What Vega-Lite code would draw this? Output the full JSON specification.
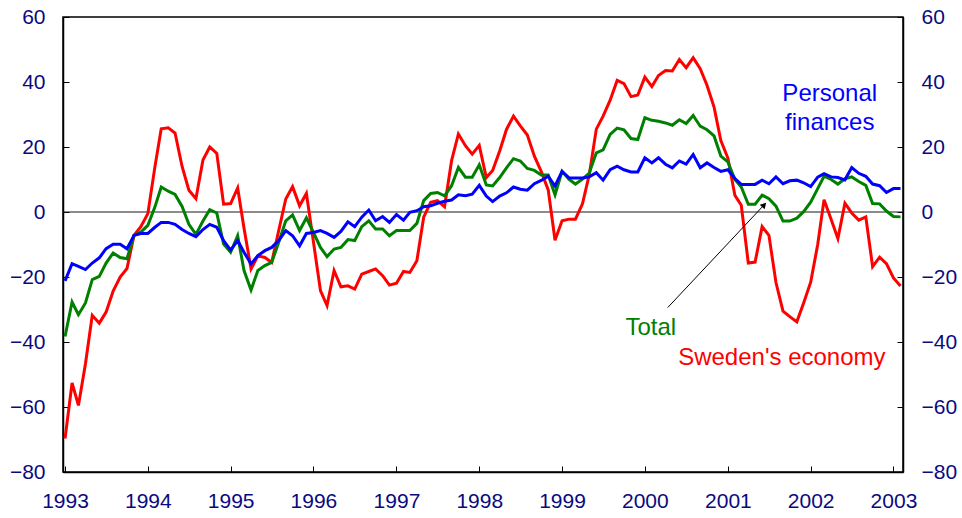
{
  "$schema": "https://vega.github.io/schema/vega-lite/v6.json",
  "width": 840,
  "height": 455,
  "autosize": {"type": "none"},
  "padding": {"left": 63, "top": 17, "right": 59, "bottom": 46},
  "background": "white",
  "config": {
    "font": "Liberation Sans",
    "view": {"stroke": "black", "strokeWidth": 1.5},
    "axis": {
      "grid": false,
      "domainColor": "black",
      "domainWidth": 1.5,
      "tickColor": "black",
      "tickWidth": 1,
      "tickSize": -6,
      "labelFont": "Liberation Sans",
      "labelFontSize": 21,
      "labelColor": "#0a0a80",
      "title": null
    }
  },
  "datasets": {
    "sweden": [
      {"d":"1993-01-01","v":-69.7},{"d":"1993-02-01","v":-52.6},{"d":"1993-03-01","v":-59.5},{"d":"1993-04-01","v":-46.7},{"d":"1993-05-01","v":-31.8},{"d":"1993-06-01","v":-34.2},{"d":"1993-07-01","v":-30.8},{"d":"1993-08-01","v":-24.3},{"d":"1993-09-01","v":-20},{"d":"1993-10-01","v":-17.4},{"d":"1993-11-01","v":-7.2},{"d":"1993-12-01","v":-4.5},
      {"d":"1994-01-01","v":-0.5},{"d":"1994-02-01","v":13.8},{"d":"1994-03-01","v":25.6},{"d":"1994-04-01","v":25.9},{"d":"1994-05-01","v":24.3},{"d":"1994-06-01","v":14},{"d":"1994-07-01","v":6.7},{"d":"1994-08-01","v":4.1},{"d":"1994-09-01","v":16},{"d":"1994-10-01","v":20},{"d":"1994-11-01","v":18},{"d":"1994-12-01","v":2.4},
      {"d":"1995-01-01","v":2.6},{"d":"1995-02-01","v":7.4},{"d":"1995-03-01","v":-5},{"d":"1995-04-01","v":-17.5},{"d":"1995-05-01","v":-13.5},{"d":"1995-06-01","v":-14},{"d":"1995-07-01","v":-15.5},{"d":"1995-08-01","v":-5.7},{"d":"1995-09-01","v":4},{"d":"1995-10-01","v":7.8},{"d":"1995-11-01","v":1.9},{"d":"1995-12-01","v":5.7},
      {"d":"1996-01-01","v":-9.2},{"d":"1996-02-01","v":-24.2},{"d":"1996-03-01","v":-28.8},{"d":"1996-04-01","v":-18},{"d":"1996-05-01","v":-23},{"d":"1996-06-01","v":-22.7},{"d":"1996-07-01","v":-23.7},{"d":"1996-08-01","v":-19.1},{"d":"1996-09-01","v":-18.3},{"d":"1996-10-01","v":-17.5},{"d":"1996-11-01","v":-19.6},{"d":"1996-12-01","v":-22.5},
      {"d":"1997-01-01","v":-21.9},{"d":"1997-02-01","v":-18.3},{"d":"1997-03-01","v":-18.6},{"d":"1997-04-01","v":-15},{"d":"1997-05-01","v":-1.6},{"d":"1997-06-01","v":3},{"d":"1997-07-01","v":3.5},{"d":"1997-08-01","v":1.6},{"d":"1997-09-01","v":15.8},{"d":"1997-10-01","v":24},{"d":"1997-11-01","v":20.4},{"d":"1997-12-01","v":17.8},
      {"d":"1998-01-01","v":20.5},{"d":"1998-02-01","v":10.6},{"d":"1998-03-01","v":12.8},{"d":"1998-04-01","v":18.8},{"d":"1998-05-01","v":25.4},{"d":"1998-06-01","v":29.5},{"d":"1998-07-01","v":26.5},{"d":"1998-08-01","v":23.7},{"d":"1998-09-01","v":17.2},{"d":"1998-10-01","v":12.5},{"d":"1998-11-01","v":6.8},{"d":"1998-12-01","v":-8.7},
      {"d":"1999-01-01","v":-2.7},{"d":"1999-02-01","v":-2.2},{"d":"1999-03-01","v":-2.2},{"d":"1999-04-01","v":2.5},{"d":"1999-05-01","v":11.5},{"d":"1999-06-01","v":25.5},{"d":"1999-07-01","v":29.5},{"d":"1999-08-01","v":34.4},{"d":"1999-09-01","v":40.5},{"d":"1999-10-01","v":39.5},{"d":"1999-11-01","v":35.5},{"d":"1999-12-01","v":36},
      {"d":"2000-01-01","v":41.5},{"d":"2000-02-01","v":38.6},{"d":"2000-03-01","v":42},{"d":"2000-04-01","v":43.5},{"d":"2000-05-01","v":43.4},{"d":"2000-06-01","v":46.9},{"d":"2000-07-01","v":44.4},{"d":"2000-08-01","v":47.5},{"d":"2000-09-01","v":44.1},{"d":"2000-10-01","v":39},{"d":"2000-11-01","v":32.3},{"d":"2000-12-01","v":22},
      {"d":"2001-01-01","v":16.6},{"d":"2001-02-01","v":5.1},{"d":"2001-03-01","v":2.1},{"d":"2001-04-01","v":-15.7},{"d":"2001-05-01","v":-15.4},{"d":"2001-06-01","v":-4.5},{"d":"2001-07-01","v":-7.2},{"d":"2001-08-01","v":-21.7},{"d":"2001-09-01","v":-30.5},{"d":"2001-10-01","v":-32.2},{"d":"2001-11-01","v":-33.8},{"d":"2001-12-01","v":-28},
      {"d":"2002-01-01","v":-21.6},{"d":"2002-02-01","v":-10},{"d":"2002-03-01","v":3.8},{"d":"2002-04-01","v":-2.2},{"d":"2002-05-01","v":-8.2},{"d":"2002-06-01","v":2.7},{"d":"2002-07-01","v":-0.3},{"d":"2002-08-01","v":-2.5},{"d":"2002-09-01","v":-1.5},{"d":"2002-10-01","v":-16.8},{"d":"2002-11-01","v":-13.9},{"d":"2002-12-01","v":-15.9},
      {"d":"2003-01-01","v":-20.3},{"d":"2003-02-01","v":-22.8}
    ],
    "total": [
      {"d":"1993-01-01","v":-38.3},{"d":"1993-02-01","v":-27.7},{"d":"1993-03-01","v":-31.6},{"d":"1993-04-01","v":-28},{"d":"1993-05-01","v":-20.8},{"d":"1993-06-01","v":-19.8},{"d":"1993-07-01","v":-15.7},{"d":"1993-08-01","v":-12.6},{"d":"1993-09-01","v":-14},{"d":"1993-10-01","v":-14.4},{"d":"1993-11-01","v":-7.2},{"d":"1993-12-01","v":-6.2},
      {"d":"1994-01-01","v":-4.1},{"d":"1994-02-01","v":1.5},{"d":"1994-03-01","v":7.7},{"d":"1994-04-01","v":6.4},{"d":"1994-05-01","v":5.4},{"d":"1994-06-01","v":1.7},{"d":"1994-07-01","v":-3.8},{"d":"1994-08-01","v":-6.9},{"d":"1994-09-01","v":-2.8},{"d":"1994-10-01","v":0.7},{"d":"1994-11-01","v":-0.3},{"d":"1994-12-01","v":-9.9},
      {"d":"1995-01-01","v":-12.4},{"d":"1995-02-01","v":-7.3},{"d":"1995-03-01","v":-18},{"d":"1995-04-01","v":-24},{"d":"1995-05-01","v":-18},{"d":"1995-06-01","v":-16.5},{"d":"1995-07-01","v":-15.5},{"d":"1995-08-01","v":-9.3},{"d":"1995-09-01","v":-2.7},{"d":"1995-10-01","v":-0.9},{"d":"1995-11-01","v":-5.7},{"d":"1995-12-01","v":-1.8},
      {"d":"1996-01-01","v":-6.3},{"d":"1996-02-01","v":-10.9},{"d":"1996-03-01","v":-13.7},{"d":"1996-04-01","v":-11.4},{"d":"1996-05-01","v":-10.9},{"d":"1996-06-01","v":-8.5},{"d":"1996-07-01","v":-8.8},{"d":"1996-08-01","v":-4.5},{"d":"1996-09-01","v":-2.7},{"d":"1996-10-01","v":-5.2},{"d":"1996-11-01","v":-5.2},{"d":"1996-12-01","v":-7.3},
      {"d":"1997-01-01","v":-5.7},{"d":"1997-02-01","v":-5.7},{"d":"1997-03-01","v":-5.7},{"d":"1997-04-01","v":-3.5},{"d":"1997-05-01","v":3.5},{"d":"1997-06-01","v":5.7},{"d":"1997-07-01","v":6},{"d":"1997-08-01","v":5},{"d":"1997-09-01","v":8.1},{"d":"1997-10-01","v":13.7},{"d":"1997-11-01","v":10.7},{"d":"1997-12-01","v":10.7},
      {"d":"1998-01-01","v":14.5},{"d":"1998-02-01","v":8.3},{"d":"1998-03-01","v":8},{"d":"1998-04-01","v":10.6},{"d":"1998-05-01","v":13.6},{"d":"1998-06-01","v":16.4},{"d":"1998-07-01","v":15.7},{"d":"1998-08-01","v":13.4},{"d":"1998-09-01","v":12.8},{"d":"1998-10-01","v":11.4},{"d":"1998-11-01","v":11.4},{"d":"1998-12-01","v":5.3},
      {"d":"1999-01-01","v":12.5},{"d":"1999-02-01","v":10},{"d":"1999-03-01","v":8.6},{"d":"1999-04-01","v":10.1},{"d":"1999-05-01","v":12},{"d":"1999-06-01","v":18.2},{"d":"1999-07-01","v":19.1},{"d":"1999-08-01","v":23.9},{"d":"1999-09-01","v":25.8},{"d":"1999-10-01","v":25.3},{"d":"1999-11-01","v":22.6},{"d":"1999-12-01","v":22.3},
      {"d":"2000-01-01","v":29},{"d":"2000-02-01","v":28.2},{"d":"2000-03-01","v":27.9},{"d":"2000-04-01","v":27.4},{"d":"2000-05-01","v":26.7},{"d":"2000-06-01","v":28.4},{"d":"2000-07-01","v":27.2},{"d":"2000-08-01","v":29.7},{"d":"2000-09-01","v":26.4},{"d":"2000-10-01","v":25.3},{"d":"2000-11-01","v":23.4},{"d":"2000-12-01","v":17.2},
      {"d":"2001-01-01","v":15.4},{"d":"2001-02-01","v":10},{"d":"2001-03-01","v":7.7},{"d":"2001-04-01","v":2.4},{"d":"2001-05-01","v":2.4},{"d":"2001-06-01","v":5.2},{"d":"2001-07-01","v":4.1},{"d":"2001-08-01","v":1.8},{"d":"2001-09-01","v":-2.8},{"d":"2001-10-01","v":-2.8},{"d":"2001-11-01","v":-1.9},{"d":"2001-12-01","v":0.1},
      {"d":"2002-01-01","v":3},{"d":"2002-02-01","v":7.2},{"d":"2002-03-01","v":11},{"d":"2002-04-01","v":10},{"d":"2002-05-01","v":8.6},{"d":"2002-06-01","v":10.2},{"d":"2002-07-01","v":10.8},{"d":"2002-08-01","v":9.4},{"d":"2002-09-01","v":8.2},{"d":"2002-10-01","v":2.6},{"d":"2002-11-01","v":2.5},{"d":"2002-12-01","v":0.3},
      {"d":"2003-01-01","v":-1.4},{"d":"2003-02-01","v":-1.5}
    ],
    "personal": [
      {"d":"1993-01-01","v":-21.2},{"d":"1993-02-01","v":-15.9},{"d":"1993-03-01","v":-16.7},{"d":"1993-04-01","v":-17.7},{"d":"1993-05-01","v":-15.7},{"d":"1993-06-01","v":-14.1},{"d":"1993-07-01","v":-11.3},{"d":"1993-08-01","v":-9.9},{"d":"1993-09-01","v":-9.9},{"d":"1993-10-01","v":-11.3},{"d":"1993-11-01","v":-7.2},{"d":"1993-12-01","v":-6.6},
      {"d":"1994-01-01","v":-6.6},{"d":"1994-02-01","v":-4.7},{"d":"1994-03-01","v":-3.2},{"d":"1994-04-01","v":-3.2},{"d":"1994-05-01","v":-3.8},{"d":"1994-06-01","v":-5.4},{"d":"1994-07-01","v":-6.6},{"d":"1994-08-01","v":-7.6},{"d":"1994-09-01","v":-5.4},{"d":"1994-10-01","v":-3.8},{"d":"1994-11-01","v":-4.7},{"d":"1994-12-01","v":-8.8},
      {"d":"1995-01-01","v":-11.7},{"d":"1995-02-01","v":-8.8},{"d":"1995-03-01","v":-12.4},{"d":"1995-04-01","v":-16},{"d":"1995-05-01","v":-13.4},{"d":"1995-06-01","v":-11.9},{"d":"1995-07-01","v":-10.9},{"d":"1995-08-01","v":-8.8},{"d":"1995-09-01","v":-5.7},{"d":"1995-10-01","v":-7.3},{"d":"1995-11-01","v":-10.4},{"d":"1995-12-01","v":-6.6},
      {"d":"1996-01-01","v":-6.3},{"d":"1996-02-01","v":-5.7},{"d":"1996-03-01","v":-6.6},{"d":"1996-04-01","v":-7.8},{"d":"1996-05-01","v":-6},{"d":"1996-06-01","v":-3},{"d":"1996-07-01","v":-4.5},{"d":"1996-08-01","v":-1.6},{"d":"1996-09-01","v":0.6},{"d":"1996-10-01","v":-2.7},{"d":"1996-11-01","v":-1.4},{"d":"1996-12-01","v":-3.2},
      {"d":"1997-01-01","v":-0.8},{"d":"1997-02-01","v":-2.5},{"d":"1997-03-01","v":-0.1},{"d":"1997-04-01","v":0.4},{"d":"1997-05-01","v":1.6},{"d":"1997-06-01","v":1.9},{"d":"1997-07-01","v":2.7},{"d":"1997-08-01","v":3.3},{"d":"1997-09-01","v":3.7},{"d":"1997-10-01","v":5.3},{"d":"1997-11-01","v":5},{"d":"1997-12-01","v":5.5},
      {"d":"1998-01-01","v":8.2},{"d":"1998-02-01","v":4.9},{"d":"1998-03-01","v":3.2},{"d":"1998-04-01","v":4.9},{"d":"1998-05-01","v":5.9},{"d":"1998-06-01","v":7.7},{"d":"1998-07-01","v":7},{"d":"1998-08-01","v":6.7},{"d":"1998-09-01","v":8.7},{"d":"1998-10-01","v":9.7},{"d":"1998-11-01","v":11},{"d":"1998-12-01","v":8},
      {"d":"1999-01-01","v":12.5},{"d":"1999-02-01","v":10.5},{"d":"1999-03-01","v":10.5},{"d":"1999-04-01","v":10.5},{"d":"1999-05-01","v":10.8},{"d":"1999-06-01","v":12.1},{"d":"1999-07-01","v":9.8},{"d":"1999-08-01","v":13},{"d":"1999-09-01","v":14.1},{"d":"1999-10-01","v":13},{"d":"1999-11-01","v":12.3},{"d":"1999-12-01","v":12.3},
      {"d":"2000-01-01","v":16.7},{"d":"2000-02-01","v":15.1},{"d":"2000-03-01","v":16.7},{"d":"2000-04-01","v":14.7},{"d":"2000-05-01","v":13.6},{"d":"2000-06-01","v":15.7},{"d":"2000-07-01","v":14.7},{"d":"2000-08-01","v":17.7},{"d":"2000-09-01","v":13.6},{"d":"2000-10-01","v":15.1},{"d":"2000-11-01","v":13.7},{"d":"2000-12-01","v":12.5},
      {"d":"2001-01-01","v":13},{"d":"2001-02-01","v":10.3},{"d":"2001-03-01","v":8.5},{"d":"2001-04-01","v":8.5},{"d":"2001-05-01","v":8.5},{"d":"2001-06-01","v":9.8},{"d":"2001-07-01","v":8.7},{"d":"2001-08-01","v":10.8},{"d":"2001-09-01","v":8.7},{"d":"2001-10-01","v":9.6},{"d":"2001-11-01","v":9.8},{"d":"2001-12-01","v":9},
      {"d":"2002-01-01","v":7.8},{"d":"2002-02-01","v":10.7},{"d":"2002-03-01","v":11.8},{"d":"2002-04-01","v":10.8},{"d":"2002-05-01","v":10.6},{"d":"2002-06-01","v":9.9},{"d":"2002-07-01","v":13.7},{"d":"2002-08-01","v":11.9},{"d":"2002-09-01","v":11},{"d":"2002-10-01","v":8.6},{"d":"2002-11-01","v":8.1},{"d":"2002-12-01","v":6},
      {"d":"2003-01-01","v":7.2},{"d":"2003-02-01","v":7.2}
    ],
    "labels": [
      {"d":"2002-03-26","v":36.2,"t":"Personal","s":"Personal finances"},
      {"d":"2002-03-26","v":27.5,"t":"finances","s":"Personal finances"},
      {"d":"2000-01-27","v":-35.8,"t":"Total","s":"Total"},
      {"d":"2001-08-27","v":-45,"t":"Sweden's economy","s":"Sweden's economy"}
    ],
    "arrow": [
      {"d":"2000-04-11","v":-29.4,"d2":"2001-06-10","v2":2.2}
    ],
    "arrowhead": [
      {"d":"2001-06-10","v":2.2}
    ]
  },
  "resolve": {"axis": {"y": "independent"}},
  "layer": [
    {
      "data": {"values": [{"v": 0}]},
      "mark": {"type": "rule", "color": "#1a1a1a", "strokeWidth": 1.2},
      "encoding": {
        "y": {"field": "v", "type": "quantitative", "axis": null, "scale": {"domain": [-80, 60], "nice": false, "zero": false}}
      }
    },
    {
      "data": {"name": "sweden"},
      "mark": {"type": "line", "color": "#ff0000", "strokeWidth": 3},
      "encoding": {
        "x": {"field": "d", "type": "temporal",
              "scale": {"type": "utc", "domain": [{"year": 1992, "month": 12, "date": 23, "utc": true}, {"year": 2003, "month": 2, "date": 12, "utc": true}]},
              "axis": {"orient": "bottom", "format": "%Y", "formatType": "utc", "labelPadding": 24, "labelFlush": false, "labelOverlap": false,
                       "values": [{"year":1993,"utc":true},{"year":1994,"utc":true},{"year":1995,"utc":true},{"year":1996,"utc":true},{"year":1997,"utc":true},{"year":1998,"utc":true},{"year":1999,"utc":true},{"year":2000,"utc":true},{"year":2001,"utc":true},{"year":2002,"utc":true},{"year":2003,"utc":true}]}},
        "y": {"field": "v", "type": "quantitative",
              "scale": {"domain": [-80, 60], "nice": false, "zero": false},
              "axis": {"orient": "left", "values": [-80, -60, -40, -20, 0, 20, 40, 60], "labelPadding": 24, "labelFlush": false, "labelOverlap": false}}
      }
    },
    {
      "data": {"name": "total"},
      "mark": {"type": "line", "color": "#008000", "strokeWidth": 3},
      "encoding": {
        "x": {"field": "d", "type": "temporal"},
        "y": {"field": "v", "type": "quantitative", "axis": null}
      }
    },
    {
      "data": {"name": "personal"},
      "mark": {"type": "line", "color": "#0000ff", "strokeWidth": 3},
      "encoding": {
        "x": {"field": "d", "type": "temporal"},
        "y": {"field": "v", "type": "quantitative",
              "axis": {"orient": "right", "values": [-80, -60, -40, -20, 0, 20, 40, 60], "labelPadding": 24, "labelFlush": false, "labelOverlap": false}}
      }
    },
    {
      "data": {"name": "arrow"},
      "mark": {"type": "rule", "color": "black", "strokeWidth": 1},
      "encoding": {
        "x": {"field": "d", "type": "temporal"},
        "y": {"field": "v", "type": "quantitative", "axis": null},
        "x2": {"field": "d2"},
        "y2": {"field": "v2"}
      }
    },
    {
      "data": {"name": "arrowhead"},
      "mark": {"type": "point", "shape": "triangle-up", "filled": true, "color": "black", "size": 45, "angle": 43, "opacity": 1},
      "encoding": {
        "x": {"field": "d", "type": "temporal"},
        "y": {"field": "v", "type": "quantitative", "axis": null}
      }
    },
    {
      "data": {"name": "labels"},
      "mark": {"type": "text", "fontSize": 24, "font": "Liberation Sans", "align": "center", "baseline": "middle"},
      "encoding": {
        "x": {"field": "d", "type": "temporal"},
        "y": {"field": "v", "type": "quantitative", "axis": null},
        "text": {"field": "t"},
        "color": {"field": "s", "type": "nominal", "legend": null,
                  "scale": {"domain": ["Personal finances", "Total", "Sweden's economy"], "range": ["#0000ff", "#008000", "#ff0000"]}}
      }
    }
  ]
}
